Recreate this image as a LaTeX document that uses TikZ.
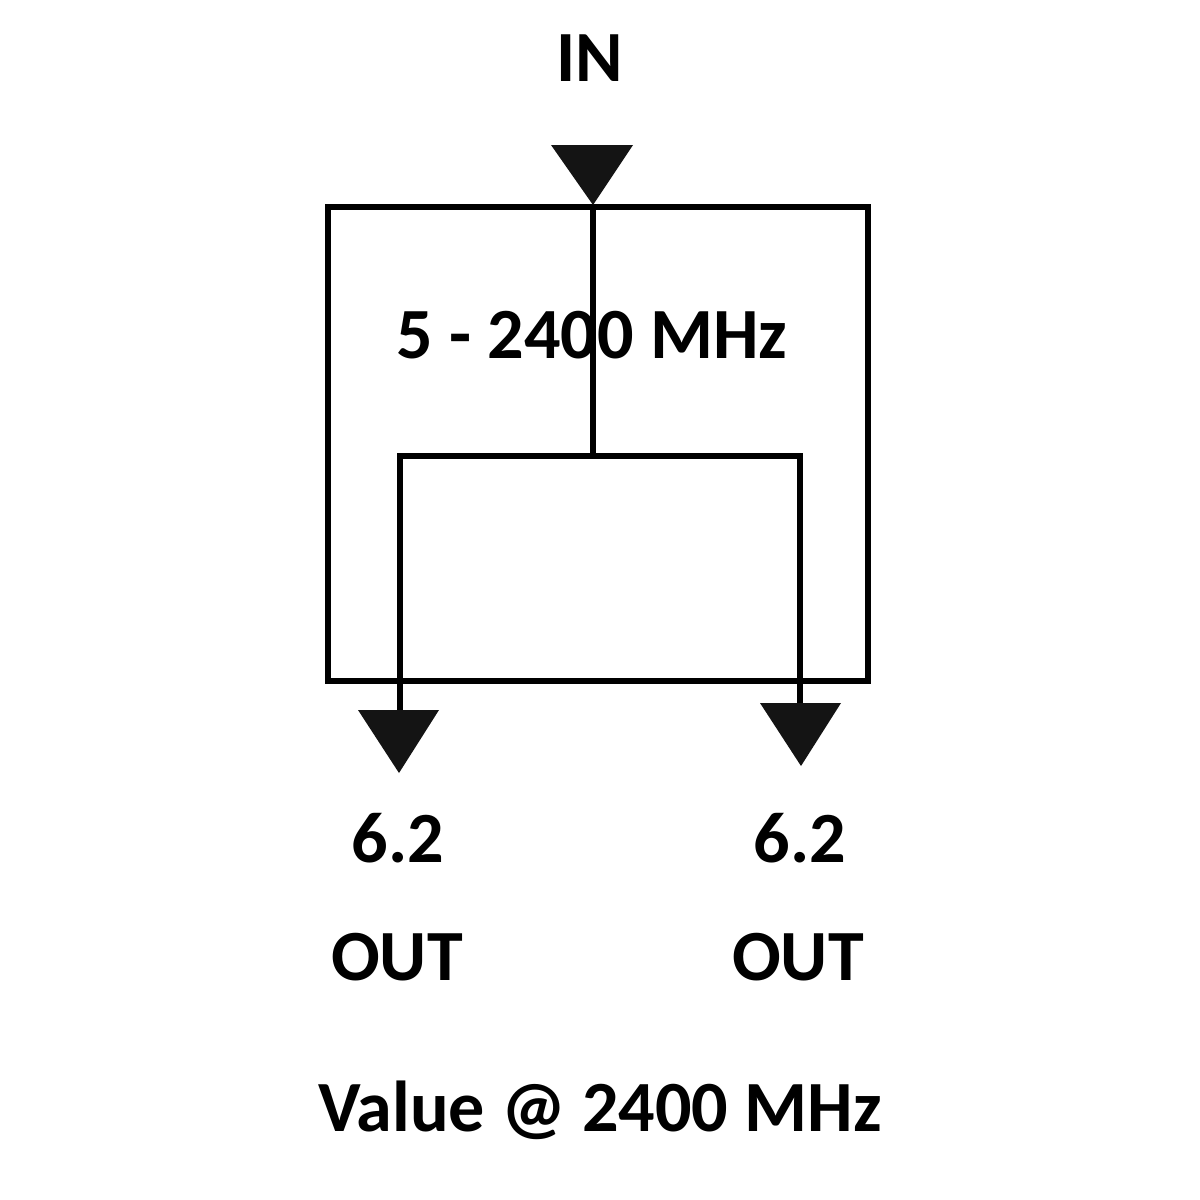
\documentclass[tikz,border=0pt]{standalone}
\usepackage{fontspec}
\setmainfont{Carlito}
\begin{document}
\begin{tikzpicture}[x=0.01cm,y=-0.01cm,
  wire/.style={line width=1.45pt,black},
  lbl/.style={font=\bfseries\fontsize{20.5}{24}\selectfont,inner sep=0pt},
  tri/.style={fill=black!92}]
\useasboundingbox (0,0) rectangle (1200,1200);
% coordinates
\coordinate (boxNW) at (328,207);
\coordinate (boxSE) at (868,681);
\coordinate (inApex) at (593,205);
\coordinate (split) at (593,456);
\coordinate (lTop) at (400,456);
\coordinate (rTop) at (800,456);
\coordinate (lEnd) at (400,712);
\coordinate (rEnd) at (800,705);
% outer box
\draw[wire] (boxNW) rectangle (boxSE);
% lines
\draw[wire] (inApex) -- (split);
\draw[wire] (lEnd) -- (lTop) -- (rTop) -- (rEnd);
% triangles
\fill[tri] (551,145) -- (633,145) -- (inApex) -- cycle;
\fill[tri] (358,710) -- (439,710) -- (399,773) -- cycle;
\fill[tri] (760,703) -- (841,703) -- (801,766) -- cycle;
% labels
\node[lbl] (in) at (590,58) {IN};
\node[lbl] (band) at (592,335) {5 - 2400 MHz};
\node[lbl] (v1) at (398,838) {6.2};
\node[lbl] (v2) at (800,838) {6.2};
\node[lbl] (o1) at (397,957) {OUT};
\node[lbl] (o2) at (798,957) {OUT};
\node[lbl] (cap) at (600,1110) {Value @ 2400 MHz};
\end{tikzpicture}
\end{document}
